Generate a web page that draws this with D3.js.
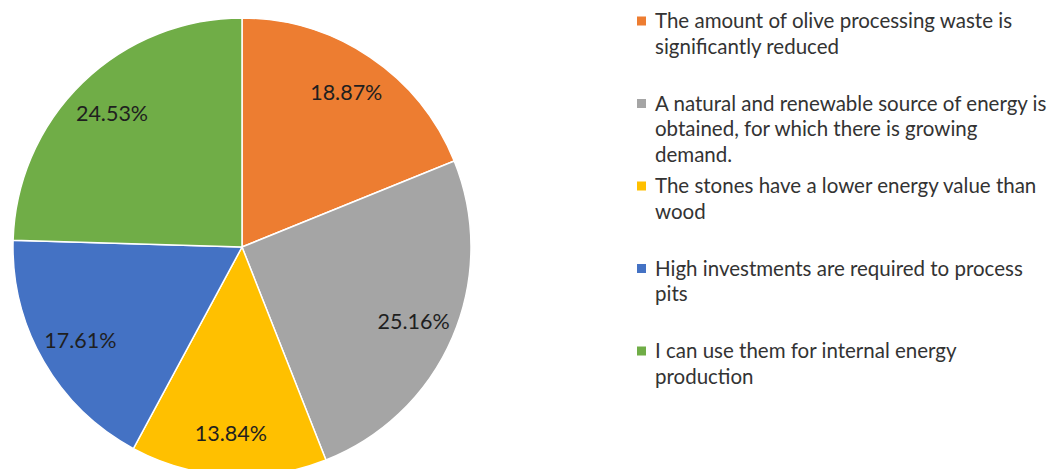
<!DOCTYPE html>
<html>
<head>
<meta charset="utf-8">
<script src="https://cdn.jsdelivr.net/npm/d3@7"></script>
<style>
  html, body { margin: 0; padding: 0; background: #fff; }
  svg { display: block; }
</style>
</head>
<body>
<svg id="chart" width="1053" height="469"></svg>
<script>
// Answer categories (line breaks follow the legend layout)
const categories = [
  "The amount of olive processing waste is\nsignificantly reduced",
  "A natural and renewable source of energy is\nobtained, for which there is growing\ndemand.",
  "The stones have a lower energy value than\nwood",
  "High investments are required to process\npits",
  "I can use them for internal energy\nproduction"
];
// Share of respondents, in percent
const shares = [18.87, 25.16, 13.84, 17.61, 24.53];
const colors = ["#ED7D31", "#A5A5A5", "#FFC000", "#4472C4", "#70AD47"];

const svg = d3.select("#chart");
const cx = 242, cy = 247, radius = 229;

const data = categories.map((c, i) => ({ label: c, value: shares[i], color: colors[i] }));

const pie = d3.pie().value(d => d.value).sort(null);
const arc = d3.arc().innerRadius(0).outerRadius(radius);
const labelArc = d3.arc().innerRadius(radius * 0.815).outerRadius(radius * 0.815);

const g = svg.append("g").attr("transform", `translate(${cx},${cy})`);
const arcs = pie(data);

g.selectAll("path.slice")
  .data(arcs)
  .join("path")
  .attr("class", "slice")
  .attr("d", arc)
  .attr("fill", d => d.data.color)
  .attr("stroke", "#fff")
  .attr("stroke-width", 1.5);

g.selectAll("text.pct")
  .data(arcs)
  .join("text")
  .attr("class", "pct")
  .attr("transform", d => `translate(${labelArc.centroid(d)})`)
  .attr("text-anchor", "middle")
  .attr("dominant-baseline", "central")
  .attr("font-family", "Lato, 'Open Sans', sans-serif")
  .attr("font-size", 21.5)
  .attr("fill", "#1f1f1f")
  .text(d => d.data.value.toFixed(2) + "%");

// Legend
const legend = svg.append("g").attr("transform", "translate(637,21)");
const step = 82.5, lineH = 25.5;
const items = legend.selectAll("g.item")
  .data(data)
  .join("g")
  .attr("class", "item")
  .attr("transform", (d, i) => `translate(0,${i * step})`);

items.append("rect")
  .attr("x", 0).attr("y", -4.5)
  .attr("width", 9).attr("height", 9)
  .attr("fill", d => d.color);

items.append("text")
  .attr("x", 18)
  .attr("font-family", "Lato, 'Open Sans', sans-serif")
  .attr("font-size", 20.5)
  .attr("fill", "#333")
  .selectAll("tspan")
  .data(d => d.label.split("\n"))
  .join("tspan")
  .attr("x", 18)
  .attr("y", (t, j) => j * lineH)
  .attr("dy", "0.35em")
  .text(t => t);
</script>
</body>
</html>
